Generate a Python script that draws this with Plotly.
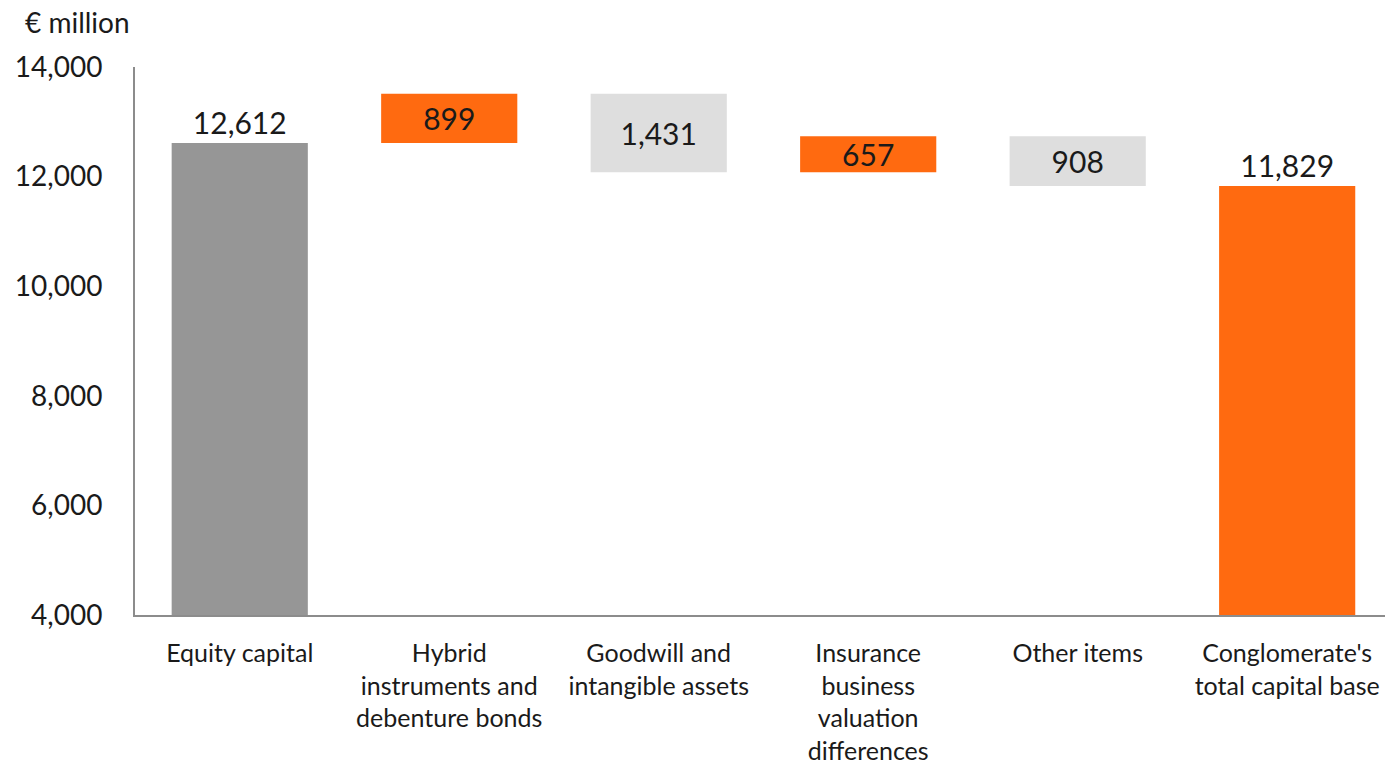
import plotly.graph_objects as go

categories = ["Equity capital", "Hybrid<br>instruments and<br>debenture bonds",
              "Goodwill and<br>intangible assets", "Insurance<br>business<br>valuation<br>differences",
              "Other items", "Conglomerate's<br>total capital base"]
measures = ["absolute", "relative", "relative", "relative", "relative", "total"]
changes = [12612, 899, -1431, 657, -908, 11829]
labels = ["12,612", "899", "1,431", "657", "908", "11,829"]
colors = ["#969696", "#FF6A10", "#DEDEDE", "#FF6A10", "#DEDEDE", "#FF6A10"]
y_ticks = [4000, 6000, 8000, 10000, 12000, 14000]
y_tick_labels = ["4,000", "6,000", "8,000", "10,000", "12,000", "14,000"]

bases, heights, positions = [], [], []
running = 0
for m, v in zip(measures, changes):
    if m in ("absolute", "total"):
        bases.append(0)
        heights.append(v)
        running = v
        positions.append("outside")
    else:
        new = running + v
        bases.append(min(running, new))
        heights.append(abs(v))
        running = new
        positions.append("inside")

FONT = "Lato, Open Sans, sans-serif"

fig = go.Figure(go.Bar(
    x=list(range(len(categories))), y=heights, base=bases,
    marker=dict(color=colors, line=dict(width=0)),
    width=0.65,
    text=labels, textposition=positions, insidetextanchor="middle",
    textfont=dict(family=FONT, size=30, color="#1a1a1a"),
    constraintext="none", cliponaxis=False, hoverinfo="skip",
))

fig.update_layout(
    width=1385, height=765,
    margin=dict(l=135, r=0, t=67, b=150, autoexpand=False),
    plot_bgcolor="white", paper_bgcolor="white",
    showlegend=False,
    font=dict(family=FONT, color="#1a1a1a"),
    annotations=[dict(text="€ million", xref="paper", yref="paper", x=-0.0464, y=1.082,
                      xanchor="center", yanchor="middle", showarrow=False,
                      font=dict(family=FONT, size=28, color="#1a1a1a"))],
)
fig.update_xaxes(
    tickvals=list(range(len(categories))), ticktext=categories,
    range=[-0.5, 5.467], showgrid=False, zeroline=False, automargin=False,
    showline=True, linecolor="#8c8c8c", linewidth=2,
    tickfont=dict(family=FONT, size=25, color="#1a1a1a"),
    ticks="outside", ticklen=15, tickcolor="rgba(0,0,0,0)",
)
fig.update_yaxes(
    range=[4000, 14000], tickvals=y_ticks, ticktext=y_tick_labels,
    showgrid=False, zeroline=False, automargin=False,
    showline=True, linecolor="#8c8c8c", linewidth=2,
    tickfont=dict(family=FONT, size=28, color="#1a1a1a"),
    ticks="outside", ticklen=25, tickcolor="rgba(0,0,0,0)",
)
fig.write_html("out.html", config={"displayModeBar": False},
               post_script="document.body.style.margin='0';document.body.style.overflow='hidden';")
